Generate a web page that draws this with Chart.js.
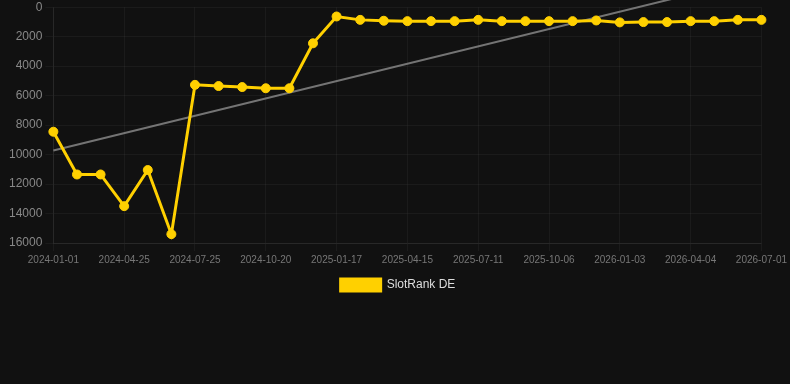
<!DOCTYPE html>
<html>
<head>
<meta charset="utf-8">
<script src="https://cdn.jsdelivr.net/npm/chart.js@4.4.1/dist/chart.umd.min.js"></script>
<style>
  html, body { margin: 0; padding: 0; background: #111111; }
  #wrap { width: 790px; height: 301px; position: relative; }
</style>
</head>
<body>
<div id="wrap"><canvas id="c"></canvas></div>
<script>
const dates = [
  "2024-01-01","2024-02-08","2024-03-17","2024-04-25","2024-05-25","2024-06-25",
  "2024-07-25","2024-08-23","2024-09-21","2024-10-20","2024-11-18","2024-12-18",
  "2025-01-17","2025-02-15","2025-03-16","2025-04-15","2025-05-14","2025-06-12",
  "2025-07-11","2025-08-09","2025-09-07","2025-10-06","2025-11-04","2025-12-04",
  "2026-01-03","2026-02-02","2026-03-04","2026-04-04","2026-05-03","2026-06-01",
  "2026-07-01"
];
const rankDE = [
  8450, 11350, 11350, 13500, 11050, 15400,
  5270, 5350, 5420, 5500, 5500, 2450,
  630, 860, 920, 945, 945, 945,
  860, 945, 945, 945, 945, 900,
  1030, 1010, 1010, 945, 945, 860,
  860
];
const trendStart = 9720;
const trendEnd = -2050;
const yTicks = [0, 2000, 4000, 6000, 8000, 10000, 12000, 14000, 16000];

const trendData = dates.map((d, i) => i === 0 ? trendStart : (i === dates.length - 1 ? trendEnd : null));

const FONT = "'Liberation Sans', Arial, Helvetica, sans-serif";

new Chart(document.getElementById('c'), {
  type: 'line',
  data: {
    labels: dates,
    datasets: [
      {
        label: 'SlotRank DE',
        data: rankDE,
        borderColor: '#ffd000',
        backgroundColor: '#ffd000',
        borderWidth: 3,
        pointRadius: 4.5,
        pointHoverRadius: 4.5,
        pointBorderWidth: 1,
        pointBackgroundColor: '#ffd000',
        pointBorderColor: '#ffd000',
        tension: 0,
        order: 1
      },
      {
        label: 'trend',
        data: trendData,
        borderColor: 'rgba(150,150,150,0.75)',
        backgroundColor: 'rgba(150,150,150,0.75)',
        borderWidth: 2,
        pointRadius: 0,
        spanGaps: true,
        clip: false,
        order: 2
      }
    ]
  },
  options: {
    responsive: true,
    maintainAspectRatio: false,
    animation: false,
    layout: { padding: { left: 6, top: 0, right: 0, bottom: 0 } },
    plugins: {
      tooltip: { enabled: false },
      legend: {
        position: 'bottom',
        labels: {
          color: '#dddddd',
          font: { family: FONT, size: 12 },
          boxWidth: 40,
          boxHeight: 12,
          filter: (item) => item.text !== 'trend'
        }
      }
    },
    scales: {
      x: {
        type: 'category',
        grid: { color: 'rgba(255,255,255,0.045)', drawTicks: true, tickLength: 8 },
        border: { color: 'rgba(255,255,255,0.06)' },
        ticks: {
          color: '#777777',
          font: { family: FONT, size: 10 },
          maxRotation: 0,
          autoSkip: false,
          callback: function(value, index) {
            return index % 3 === 0 ? dates[index] : null;
          }
        }
      },
      y: {
        reverse: true,
        min: 0,
        max: 16000,
        afterBuildTicks: (axis) => { axis.ticks = yTicks.map(v => ({ value: v })); },
        grid: { color: 'rgba(255,255,255,0.045)', tickLength: 8 },
        border: { color: 'rgba(255,255,255,0.06)' },
        ticks: {
          color: '#888888',
          font: { family: FONT, size: 12, lineHeight: 0.7 },
          padding: 3,
          callback: (v) => String(v)
        }
      }
    }
  }
});
</script>
</body>
</html>
